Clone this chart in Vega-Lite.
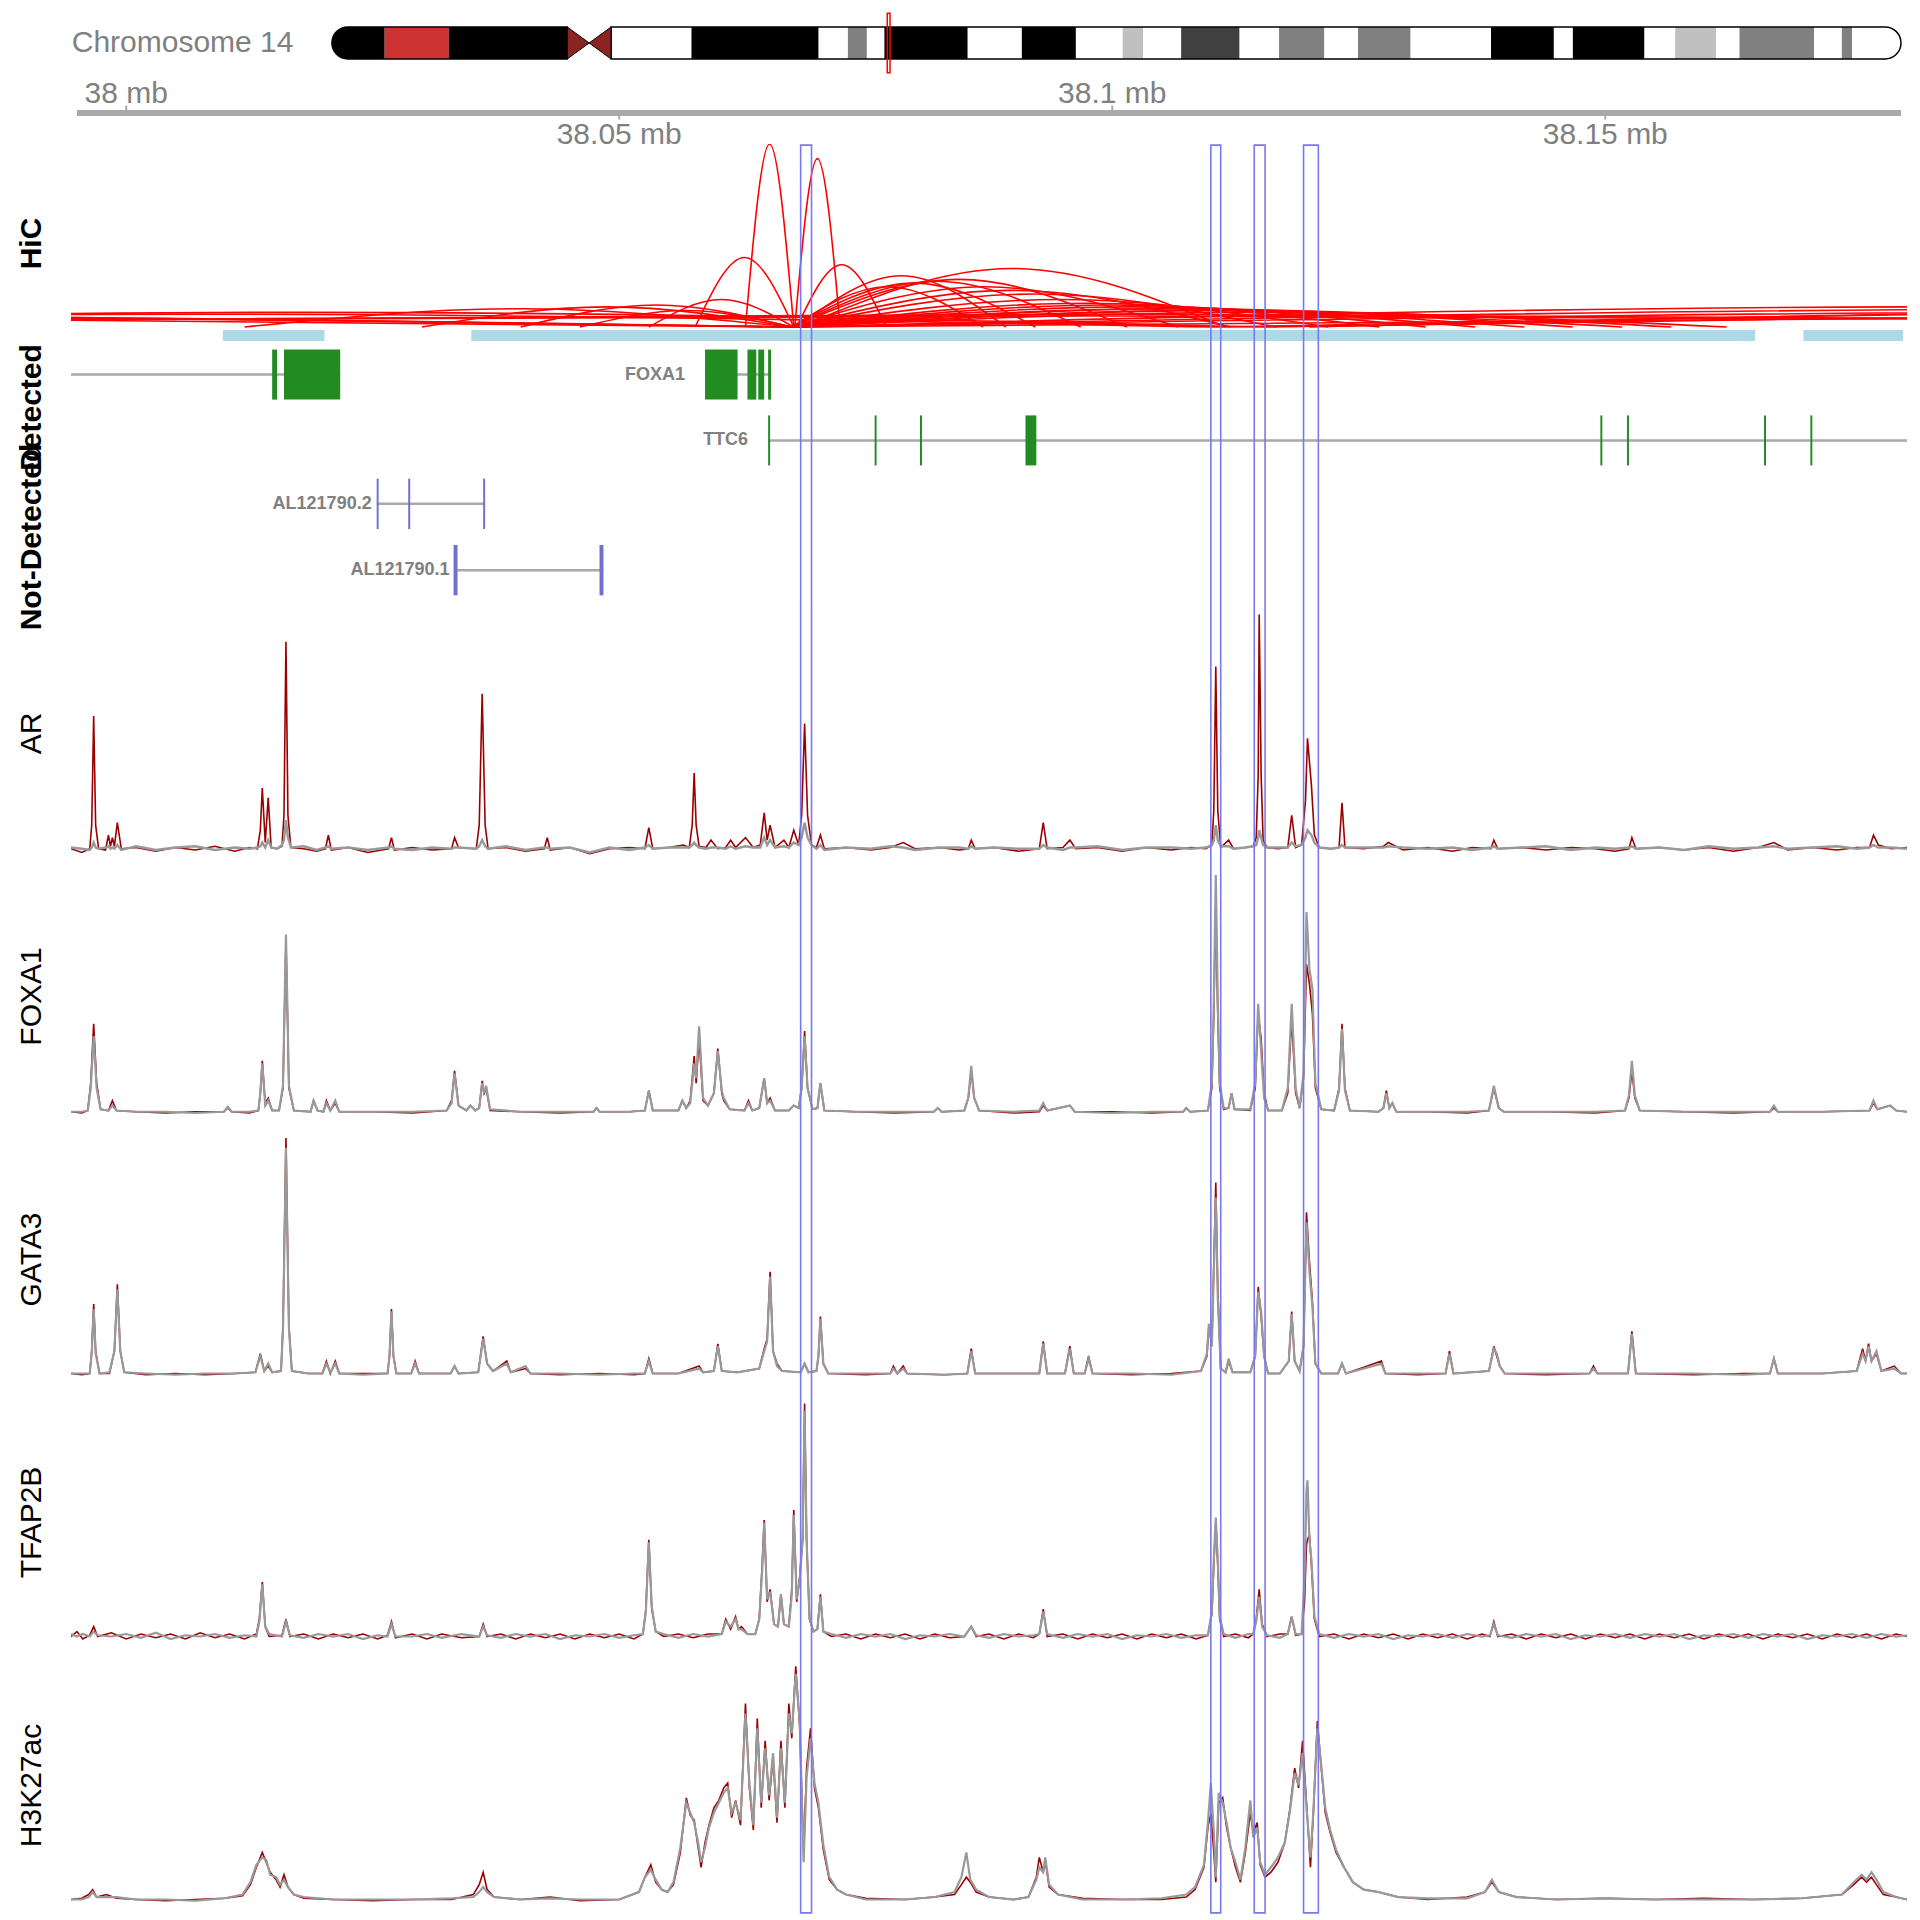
{
"$schema":"https://vega.github.io/schema/vega-lite/v6.json",
"padding":{"left":16,"top":10,"right":5,"bottom":2},
"spacing":0,
"bounds":"flush",
"config":{"view":{"stroke":null},"axis":{"disable":true},"font":"Liberation Sans",
 "title":{"orient":"left","anchor":"middle","frame":"group","offset":24,"fontSize":30,"font":"Liberation Sans","color":"black","fontWeight":"normal"}},
"datasets":{
"bands":[
{"b":"p13","s":0,"e":3.6,"st":"gvar"},{"b":"p12","s":3.6,"e":8.0,"st":"stalk"},{"b":"p11.2","s":8.0,"e":16.1,"st":"gvar"},
{"b":"q11.2","s":19.1,"e":24.6,"st":"gneg"},{"b":"q12","s":24.6,"e":33.3,"st":"gpos100"},{"b":"q13.1","s":33.3,"e":35.3,"st":"gneg"},
{"b":"q13.2","s":35.3,"e":36.6,"st":"gpos50"},{"b":"q13.3","s":36.6,"e":37.8,"st":"gneg"},{"b":"q21.1","s":37.8,"e":43.5,"st":"gpos100"},
{"b":"q21.2","s":43.5,"e":47.2,"st":"gneg"},{"b":"q21.3","s":47.2,"e":50.9,"st":"gpos100"},{"b":"q22.1","s":50.9,"e":54.1,"st":"gneg"},
{"b":"q22.2","s":54.1,"e":55.5,"st":"gpos25"},{"b":"q22.3","s":55.5,"e":58.1,"st":"gneg"},{"b":"q23.1","s":58.1,"e":62.1,"st":"gpos75"},
{"b":"q23.2","s":62.1,"e":64.8,"st":"gneg"},{"b":"q23.3","s":64.8,"e":67.9,"st":"gpos50"},{"b":"q24.1","s":67.9,"e":70.2,"st":"gneg"},
{"b":"q24.2","s":70.2,"e":73.8,"st":"gpos50"},{"b":"q24.3","s":73.8,"e":79.3,"st":"gneg"},{"b":"q31.1","s":79.3,"e":83.6,"st":"gpos100"},
{"b":"q31.2","s":83.6,"e":84.9,"st":"gneg"},{"b":"q31.3","s":84.9,"e":89.8,"st":"gpos100"},{"b":"q32.11","s":89.8,"e":91.9,"st":"gneg"},
{"b":"q32.12","s":91.9,"e":94.7,"st":"gpos25"},{"b":"q32.13","s":94.7,"e":96.3,"st":"gneg"},{"b":"q32.2","s":96.3,"e":101.4,"st":"gpos50"},
{"b":"q32.31","s":101.4,"e":103.3,"st":"gneg"},{"b":"q32.32","s":103.3,"e":104.0,"st":"gpos50"},{"b":"q32.33","s":104.0,"e":107.35,"st":"gneg"}],
"arms":[{"arm":"p","s":0,"e":16.1},{"arm":"q","s":19.1,"e":107.35}],
"ticks":[{"p":38.0,"l":"38 mb","side":"up"},{"p":38.05,"l":"38.05 mb","side":"down"},{"p":38.1,"l":"38.1 mb","side":"up"},{"p":38.15,"l":"38.15 mb","side":"down"}],
"tad":[{"s":38.0098,"e":38.0201},{"s":38.0350,"e":38.1652},{"s":38.1701,"e":38.1802}],
"boxes":[{"x1":38.0684,"x2":38.0695},{"x1":38.1100,"x2":38.1110},{"x1":38.1144,"x2":38.1155},{"x1":38.1194,"x2":38.1209}],
"genes":[
{"g":"MIPOL1","grp":"Detected","row":"r1","s":37.667,"e":38.0217},
{"g":"FOXA1","grp":"Detected","row":"r1","s":38.0587,"e":38.0654},
{"g":"TTC6","grp":"Detected","row":"r2","s":38.0651,"e":38.25},
{"g":"AL121790.2","grp":"Not-Detected","row":"r3","s":38.0254,"e":38.0364},
{"g":"AL121790.1","grp":"Not-Detected","row":"r4","s":38.0333,"e":38.0484}],
"exons":[
{"g":"MIPOL1","grp":"Detected","row":"r1","s":38.0148,"e":38.0153},{"g":"MIPOL1","grp":"Detected","row":"r1","s":38.0160,"e":38.0217},
{"g":"FOXA1","grp":"Detected","row":"r1","s":38.0587,"e":38.0620},{"g":"FOXA1","grp":"Detected","row":"r1","s":38.0630,"e":38.0639},
{"g":"FOXA1","grp":"Detected","row":"r1","s":38.0641,"e":38.0647},{"g":"FOXA1","grp":"Detected","row":"r1","s":38.0651,"e":38.0654},
{"g":"TTC6","grp":"Detected","row":"r2","s":38.0651,"e":38.0653},{"g":"TTC6","grp":"Detected","row":"r2","s":38.0759,"e":38.0761},
{"g":"TTC6","grp":"Detected","row":"r2","s":38.0805,"e":38.0807},{"g":"TTC6","grp":"Detected","row":"r2","s":38.0912,"e":38.0923},
{"g":"TTC6","grp":"Detected","row":"r2","s":38.1495,"e":38.1497},{"g":"TTC6","grp":"Detected","row":"r2","s":38.1522,"e":38.1524},
{"g":"TTC6","grp":"Detected","row":"r2","s":38.1661,"e":38.1663},{"g":"TTC6","grp":"Detected","row":"r2","s":38.1708,"e":38.1710},
{"g":"AL121790.2","grp":"Not-Detected","row":"r3","s":38.0254,"e":38.0256},{"g":"AL121790.2","grp":"Not-Detected","row":"r3","s":38.0286,"e":38.0288},
{"g":"AL121790.2","grp":"Not-Detected","row":"r3","s":38.0362,"e":38.0364},
{"g":"AL121790.1","grp":"Not-Detected","row":"r4","s":38.0332,"e":38.0336},{"g":"AL121790.1","grp":"Not-Detected","row":"r4","s":38.0480,"e":38.0484}],
"arcs":[
{"a":1,"x":38.0628,"h":0},{"a":1,"x":38.06525,"h":100},{"a":1,"x":38.0677,"h":0},
{"a":2,"x":38.0678,"h":0},{"a":2,"x":38.0701,"h":92},{"a":2,"x":38.0724,"h":0},
{"a":3,"x":38.0577,"h":0},{"a":3,"x":38.0627,"h":38},{"a":3,"x":38.0677,"h":0},
{"a":4,"x":38.0680,"h":0},{"a":4,"x":38.07255,"h":34},{"a":4,"x":38.0771,"h":0},
{"a":5,"x":38.0530,"h":0},{"a":5,"x":38.06035,"h":15},{"a":5,"x":38.0677,"h":0},
{"a":6,"x":38.0680,"h":0},{"a":6,"x":38.0786,"h":28},{"a":6,"x":38.0892,"h":0},
{"a":7,"x":38.0682,"h":0},{"a":7,"x":38.08985,"h":32},{"a":7,"x":38.1115,"h":0},
{"a":8,"x":38.0675,"h":0},{"a":8,"x":38.0772,"h":22},{"a":8,"x":38.0869,"h":0},
{"a":9,"x":38.0675,"h":0},{"a":9,"x":38.07985,"h":24},{"a":9,"x":38.0922,"h":0},
{"a":10,"x":38.0675,"h":0},{"a":10,"x":38.08215,"h":25},{"a":10,"x":38.0968,"h":0},
{"a":11,"x":38.0675,"h":0},{"a":11,"x":38.0845,"h":26},{"a":11,"x":38.1015,"h":0},
{"a":12,"x":38.0675,"h":0},{"a":12,"x":38.0871,"h":22},{"a":12,"x":38.1067,"h":0},
{"a":13,"x":38.0675,"h":0},{"a":13,"x":38.08975,"h":20},{"a":13,"x":38.1120,"h":0},
{"a":14,"x":38.0675,"h":0},{"a":14,"x":38.09205,"h":18},{"a":14,"x":38.1166,"h":0},
{"a":15,"x":38.0675,"h":0},{"a":15,"x":38.0947,"h":15},{"a":15,"x":38.1219,"h":0},
{"a":16,"x":38.0675,"h":0},{"a":16,"x":38.0973,"h":13},{"a":16,"x":38.1271,"h":0},
{"a":17,"x":38.0675,"h":0},{"a":17,"x":38.09965,"h":12},{"a":17,"x":38.1318,"h":0},
{"a":18,"x":38.0675,"h":0},{"a":18,"x":38.10215,"h":11},{"a":18,"x":38.1368,"h":0},
{"a":19,"x":38.0675,"h":0},{"a":19,"x":38.10465,"h":10},{"a":19,"x":38.1418,"h":0},
{"a":20,"x":38.0675,"h":0},{"a":20,"x":38.1071,"h":10},{"a":20,"x":38.1467,"h":0},
{"a":21,"x":38.0675,"h":0},{"a":21,"x":38.1096,"h":9},{"a":21,"x":38.1517,"h":0},
{"a":22,"x":38.0675,"h":0},{"a":22,"x":38.1121,"h":9},{"a":22,"x":38.1567,"h":0},
{"a":23,"x":38.0675,"h":0},{"a":23,"x":38.1149,"h":8},{"a":23,"x":38.1623,"h":0},
{"a":24,"x":38.0675,"h":0},{"a":24,"x":38.18375,"h":11},{"a":24,"x":38.30,"h":0},
{"a":25,"x":38.0675,"h":0},{"a":25,"x":38.20875,"h":10},{"a":25,"x":38.35,"h":0},
{"a":26,"x":38.0675,"h":0},{"a":26,"x":38.23375,"h":9},{"a":26,"x":38.40,"h":0},
{"a":27,"x":38.0675,"h":0},{"a":27,"x":38.25875,"h":8},{"a":27,"x":38.45,"h":0},
{"a":28,"x":37.75,"h":0},{"a":28,"x":37.90875,"h":8},{"a":28,"x":38.0675,"h":0},
{"a":29,"x":37.80,"h":0},{"a":29,"x":37.93375,"h":7},{"a":29,"x":38.0675,"h":0},
{"a":30,"x":37.85,"h":0},{"a":30,"x":37.95875,"h":6},{"a":30,"x":38.0675,"h":0},
{"a":31,"x":37.88,"h":0},{"a":31,"x":37.97375,"h":5},{"a":31,"x":38.0675,"h":0},
{"a":32,"x":38.0120,"h":0},{"a":32,"x":38.03975,"h":10},{"a":32,"x":38.0675,"h":0},
{"a":33,"x":38.0300,"h":0},{"a":33,"x":38.04875,"h":11},{"a":33,"x":38.0675,"h":0},
{"a":34,"x":38.0400,"h":0},{"a":34,"x":38.05375,"h":12},{"a":34,"x":38.0675,"h":0},
{"a":35,"x":38.0460,"h":0},{"a":35,"x":38.05675,"h":9},{"a":35,"x":38.0675,"h":0},
{"a":36,"x":37.85,"h":0},{"a":36,"x":38.10,"h":7},{"a":36,"x":38.35,"h":0},
{"a":37,"x":37.80,"h":0},{"a":37,"x":38.10,"h":6},{"a":37,"x":38.40,"h":0},
{"a":38,"x":38.1105,"h":0},{"a":38,"x":38.25525,"h":10},{"a":38,"x":38.40,"h":0},
{"a":39,"x":38.1150,"h":0},{"a":39,"x":38.2825,"h":9},{"a":39,"x":38.45,"h":0},
{"a":40,"x":38.1200,"h":0},{"a":40,"x":38.25,"h":11},{"a":40,"x":38.38,"h":0},
{"a":41,"x":37.90,"h":0},{"a":41,"x":38.00525,"h":7},{"a":41,"x":38.1105,"h":0},
{"a":42,"x":37.92,"h":0},{"a":42,"x":38.0175,"h":8},{"a":42,"x":38.1150,"h":0}],
"ar":[
{"x":37.9944,"t":0.5,"c":1},{"x":37.9955,"t":-1,"c":0.5},{"x":37.9963,"t":0.5,"c":0},{"x":37.9965,"t":10,"c":1},{"x":37.9967,"t":54,"c":3},{"x":37.9969,"t":10,"c":1},{"x":37.9972,"t":0.5,"c":0.5},
{"x":37.9979,"t":0,"c":1},{"x":37.9982,"t":6,"c":1.5},{"x":37.9984,"t":1.5,"c":0.5},{"x":37.9986,"t":5,"c":1},{"x":37.9988,"t":1.5,"c":0.5},{"x":37.9991,"t":11,"c":2},{"x":37.9995,"t":0.5,"c":0},
{"x":38.0010,"t":1,"c":1.5},{"x":38.0030,"t":-0.5,"c":0},{"x":38.0050,"t":1,"c":1},{"x":38.0070,"t":0,"c":1.5},{"x":38.0090,"t":1.5,"c":0},{"x":38.0110,"t":-0.5,"c":1},{"x":38.0125,"t":1,"c":0.5},
{"x":38.0133,"t":0.5,"c":1},{"x":38.0136,"t":8,"c":1.5},{"x":38.0138,"t":25,"c":3},{"x":38.0141,"t":3,"c":1},{"x":38.0144,"t":21,"c":4},{"x":38.0147,"t":1,"c":1},{"x":38.0153,"t":0.5,"c":0.5},
{"x":38.0158,"t":1.5,"c":2},{"x":38.0160,"t":14,"c":4},{"x":38.0162,"t":84,"c":12},{"x":38.0164,"t":14,"c":5},{"x":38.0167,"t":1,"c":1},{"x":38.0180,"t":0.5,"c":1.5},{"x":38.0193,"t":-0.5,"c":0},
{"x":38.0202,"t":0.5,"c":1},{"x":38.0205,"t":6,"c":1.5},{"x":38.0208,"t":0,"c":0.5},{"x":38.0225,"t":1,"c":1},{"x":38.0245,"t":-1,"c":0},{"x":38.0266,"t":0.5,"c":1},{"x":38.0269,"t":5,"c":1.5},{"x":38.0272,"t":0,"c":0.5},
{"x":38.0290,"t":1,"c":0},{"x":38.0310,"t":0,"c":1},{"x":38.0330,"t":0.5,"c":0.5},{"x":38.0333,"t":5,"c":1},{"x":38.0337,"t":1,"c":1},{"x":38.0355,"t":0.5,"c":0.5},{"x":38.0358,"t":10,"c":1.5},
{"x":38.0361,"t":63,"c":4},{"x":38.0364,"t":10,"c":1.5},{"x":38.0367,"t":0.5,"c":0.5},{"x":38.0385,"t":1,"c":1.5},{"x":38.0405,"t":-0.5,"c":0},{"x":38.0424,"t":0.5,"c":1},{"x":38.0427,"t":5,"c":1},
{"x":38.0430,"t":0,"c":0.5},{"x":38.0450,"t":1,"c":1},{"x":38.0470,"t":-1.5,"c":-1},{"x":38.0490,"t":0.5,"c":1},{"x":38.0510,"t":1,"c":0},{"x":38.0526,"t":0.5,"c":1},{"x":38.0530,"t":9,"c":2},
{"x":38.0534,"t":0.5,"c":0.5},{"x":38.0550,"t":1,"c":1},{"x":38.0565,"t":2,"c":1},{"x":38.0571,"t":1,"c":1},{"x":38.0574,"t":10,"c":2},{"x":38.0576,"t":31,"c":3},{"x":38.0578,"t":10,"c":2},
{"x":38.0581,"t":1.5,"c":1},{"x":38.0588,"t":1,"c":0.5},{"x":38.0593,"t":4,"c":1},{"x":38.0600,"t":0.5,"c":1},{"x":38.0608,"t":1,"c":0.5},{"x":38.0613,"t":4,"c":1.5},{"x":38.0618,"t":1,"c":0.5},
{"x":38.0628,"t":5,"c":1.5},{"x":38.0636,"t":1,"c":1},{"x":38.0643,"t":2,"c":1},{"x":38.0647,"t":15,"c":5},{"x":38.0650,"t":4,"c":2},{"x":38.0653,"t":10,"c":4},{"x":38.0658,"t":1,"c":1},
{"x":38.0667,"t":4,"c":1.5},{"x":38.0672,"t":1,"c":1},{"x":38.0677,"t":8,"c":3},{"x":38.0682,"t":2,"c":2},{"x":38.0685,"t":14,"c":5},{"x":38.0688,"t":51,"c":11},{"x":38.0691,"t":14,"c":5},
{"x":38.0695,"t":2,"c":2},{"x":38.0700,"t":1,"c":0.5},{"x":38.0704,"t":6,"c":2},{"x":38.0708,"t":0.5,"c":0},{"x":38.0730,"t":1,"c":1},{"x":38.0755,"t":0,"c":0.5},{"x":38.0775,"t":1,"c":1.5},
{"x":38.0788,"t":3,"c":1},{"x":38.0800,"t":0.5,"c":0},{"x":38.0825,"t":1,"c":1},{"x":38.0845,"t":0,"c":1},{"x":38.0854,"t":0.5,"c":0.5},{"x":38.0857,"t":4,"c":1.5},{"x":38.0861,"t":0.5,"c":0.5},
{"x":38.0880,"t":1,"c":1},{"x":38.0905,"t":-0.5,"c":0.5},{"x":38.0926,"t":0.5,"c":0.5},{"x":38.0930,"t":11,"c":2},{"x":38.0934,"t":0.5,"c":1},{"x":38.0950,"t":1,"c":0},{"x":38.0957,"t":4,"c":1},
{"x":38.0963,"t":0.5,"c":1},{"x":38.0985,"t":1,"c":1.5},{"x":38.1010,"t":-0.5,"c":0},{"x":38.1035,"t":1,"c":1},{"x":38.1060,"t":0,"c":1},{"x":38.1080,"t":1,"c":0.5},{"x":38.1095,"t":0.5,"c":1},
{"x":38.1101,"t":2,"c":2},{"x":38.1103,"t":16,"c":4},{"x":38.1105,"t":74,"c":10},{"x":38.1107,"t":16,"c":4},{"x":38.1110,"t":1,"c":1.5},{"x":38.1118,"t":4,"c":1.5},{"x":38.1123,"t":0.5,"c":0.5},
{"x":38.1135,"t":1,"c":1},{"x":38.1143,"t":1.5,"c":1.5},{"x":38.1146,"t":5,"c":2},{"x":38.1148,"t":30,"c":5},{"x":38.1149,"t":95,"c":8},{"x":38.1151,"t":30,"c":5},{"x":38.1153,"t":4,"c":2},
{"x":38.1157,"t":1,"c":1},{"x":38.1168,"t":0.5,"c":1},{"x":38.1178,"t":1,"c":1},{"x":38.1182,"t":14,"c":3},{"x":38.1186,"t":1,"c":1.5},{"x":38.1192,"t":2,"c":2},{"x":38.1196,"t":20,"c":5},
{"x":38.1198,"t":45,"c":8},{"x":38.1202,"t":26,"c":6},{"x":38.1205,"t":6,"c":3},{"x":38.1210,"t":1,"c":1},{"x":38.1222,"t":0.5,"c":0.5},{"x":38.1230,"t":1,"c":1},{"x":38.1233,"t":19,"c":2},
{"x":38.1236,"t":1,"c":1},{"x":38.1255,"t":0.5,"c":1},{"x":38.1275,"t":1.5,"c":1},{"x":38.1280,"t":3,"c":1.5},{"x":38.1295,"t":0,"c":1},{"x":38.1320,"t":1,"c":0.5},{"x":38.1345,"t":-0.5,"c":1},
{"x":38.1365,"t":1,"c":0},{"x":38.1384,"t":0.5,"c":1},{"x":38.1387,"t":4,"c":1.5},{"x":38.1391,"t":0.5,"c":0.5},{"x":38.1415,"t":1,"c":1},{"x":38.1440,"t":0,"c":1.5},{"x":38.1465,"t":1,"c":0},
{"x":38.1490,"t":0.5,"c":1},{"x":38.1510,"t":-0.5,"c":0.5},{"x":38.1524,"t":0.5,"c":1},{"x":38.1527,"t":5,"c":1.5},{"x":38.1531,"t":0.5,"c":0.5},{"x":38.1555,"t":1,"c":1},{"x":38.1580,"t":0,"c":0},
{"x":38.1605,"t":1,"c":1.5},{"x":38.1630,"t":-0.5,"c":0.5},{"x":38.1655,"t":1,"c":1},{"x":38.1671,"t":3,"c":1.5},{"x":38.1685,"t":0,"c":0.5},{"x":38.1710,"t":1,"c":1},{"x":38.1735,"t":0,"c":1.5},
{"x":38.1755,"t":1,"c":0.5},{"x":38.1768,"t":1,"c":1},{"x":38.1772,"t":6,"c":2},{"x":38.1777,"t":2,"c":1},{"x":38.1790,"t":0.5,"c":1},{"x":38.1806,"t":1,"c":0.5}],
"foxa1":[
{"x":37.9944,"t":0.5,"c":0.5},{"x":37.9955,"t":0,"c":0.5},{"x":37.9961,"t":1,"c":1},{"x":37.9964,"t":12,"c":10},{"x":37.9967,"t":36,"c":31},{"x":37.9970,"t":12,"c":10},{"x":37.9974,"t":1.5,"c":1.5},
{"x":37.9982,"t":1,"c":1},{"x":37.9986,"t":5,"c":3},{"x":37.9990,"t":1,"c":1},{"x":38.0010,"t":0.5,"c":0.5},{"x":38.0040,"t":0,"c":0.5},{"x":38.0070,"t":0.5,"c":0},{"x":38.0099,"t":0.5,"c":0.5},
{"x":38.0103,"t":2,"c":2.5},{"x":38.0107,"t":0.5,"c":0.5},{"x":38.0125,"t":0,"c":0.5},{"x":38.0134,"t":1,"c":1},{"x":38.0136,"t":8,"c":8},{"x":38.0138,"t":21,"c":20},{"x":38.0141,"t":4,"c":3},
{"x":38.0144,"t":6,"c":5},{"x":38.0148,"t":1,"c":1},{"x":38.0155,"t":1,"c":1},{"x":38.0159,"t":10,"c":11},{"x":38.0162,"t":70,"c":72},{"x":38.0165,"t":10,"c":11},{"x":38.0170,"t":1,"c":1},
{"x":38.0187,"t":0.5,"c":0.5},{"x":38.0190,"t":5,"c":5},{"x":38.0194,"t":1,"c":1},{"x":38.0200,"t":0.5,"c":0.5},{"x":38.0203,"t":5,"c":4},{"x":38.0207,"t":1,"c":1},{"x":38.0212,"t":4,"c":5},
{"x":38.0216,"t":0.5,"c":0.5},{"x":38.0250,"t":0.5,"c":0.5},{"x":38.0290,"t":0,"c":0.5},{"x":38.0325,"t":1,"c":1},{"x":38.0330,"t":5,"c":4},{"x":38.0333,"t":17,"c":16},{"x":38.0337,"t":3,"c":3},
{"x":38.0345,"t":1,"c":1},{"x":38.0349,"t":3,"c":3},{"x":38.0354,"t":1,"c":1},{"x":38.0358,"t":2,"c":2},{"x":38.0361,"t":13,"c":12},{"x":38.0363,"t":8,"c":8},{"x":38.0365,"t":10,"c":11},
{"x":38.0369,"t":1,"c":1.5},{"x":38.0400,"t":0.5,"c":0.5},{"x":38.0440,"t":0,"c":0.5},{"x":38.0474,"t":0.5,"c":0.5},{"x":38.0477,"t":2,"c":2},{"x":38.0480,"t":0.5,"c":0.5},{"x":38.0510,"t":0.5,"c":0.5},
{"x":38.0526,"t":1,"c":1},{"x":38.0530,"t":9,"c":9},{"x":38.0534,"t":1,"c":1},{"x":38.0560,"t":1,"c":1},{"x":38.0564,"t":5,"c":5},{"x":38.0568,"t":2,"c":2},{"x":38.0572,"t":5,"c":4},
{"x":38.0576,"t":23,"c":20},{"x":38.0578,"t":12,"c":14},{"x":38.0581,"t":30,"c":35},{"x":38.0585,"t":5,"c":6},{"x":38.0590,"t":3,"c":3},{"x":38.0596,"t":8,"c":8},{"x":38.0600,"t":26,"c":25},
{"x":38.0604,"t":8,"c":9},{"x":38.0606,"t":5,"c":6},{"x":38.0612,"t":1.5,"c":1.5},{"x":38.0627,"t":1,"c":1},{"x":38.0631,"t":5,"c":4},{"x":38.0635,"t":1,"c":1},{"x":38.0642,"t":2,"c":2},
{"x":38.0647,"t":14,"c":14},{"x":38.0650,"t":4,"c":4},{"x":38.0653,"t":6,"c":5},{"x":38.0658,"t":1,"c":1},{"x":38.0672,"t":1,"c":1},{"x":38.0677,"t":3,"c":3},{"x":38.0682,"t":2,"c":2},
{"x":38.0685,"t":10,"c":10},{"x":38.0688,"t":33,"c":31},{"x":38.0691,"t":10,"c":10},{"x":38.0696,"t":1.5,"c":1.5},{"x":38.0701,"t":2,"c":2},{"x":38.0704,"t":12,"c":12},{"x":38.0708,"t":1,"c":1},
{"x":38.0740,"t":0.5,"c":0.5},{"x":38.0780,"t":0,"c":0.5},{"x":38.0819,"t":0.5,"c":0.5},{"x":38.0823,"t":2,"c":2},{"x":38.0827,"t":0.5,"c":0.5},{"x":38.0850,"t":1,"c":1},{"x":38.0854,"t":6,"c":6},
{"x":38.0857,"t":17,"c":19},{"x":38.0860,"t":6,"c":6},{"x":38.0865,"t":1,"c":1},{"x":38.0900,"t":0,"c":0.5},{"x":38.0926,"t":0.5,"c":1},{"x":38.0930,"t":3,"c":4},{"x":38.0934,"t":1,"c":1},
{"x":38.0957,"t":3,"c":3},{"x":38.0962,"t":0.5,"c":0.5},{"x":38.1000,"t":0.5,"c":0},{"x":38.1040,"t":0,"c":0.5},{"x":38.1072,"t":0.5,"c":0.5},{"x":38.1075,"t":2,"c":2},{"x":38.1079,"t":0.5,"c":0.5},
{"x":38.1097,"t":1,"c":1},{"x":38.1101,"t":10,"c":12},{"x":38.1103,"t":40,"c":45},{"x":38.1105,"t":85,"c":96},{"x":38.1107,"t":40,"c":45},{"x":38.1109,"t":10,"c":12},{"x":38.1113,"t":1.5,"c":2},
{"x":38.1118,"t":2,"c":2},{"x":38.1121,"t":8,"c":8},{"x":38.1124,"t":1.5,"c":1.5},{"x":38.1140,"t":1,"c":1.5},{"x":38.1145,"t":10,"c":12},{"x":38.1148,"t":40,"c":44},{"x":38.1151,"t":30,"c":25},
{"x":38.1154,"t":8,"c":6},{"x":38.1158,"t":1,"c":1},{"x":38.1172,"t":1,"c":1},{"x":38.1178,"t":8,"c":10},{"x":38.1182,"t":38,"c":44},{"x":38.1186,"t":8,"c":10},{"x":38.1190,"t":2,"c":2},
{"x":38.1194,"t":14,"c":16},{"x":38.1197,"t":60,"c":81},{"x":38.1200,"t":52,"c":58},{"x":38.1203,"t":40,"c":50},{"x":38.1206,"t":10,"c":12},{"x":38.1212,"t":1.5,"c":1.5},{"x":38.1225,"t":1,"c":1},
{"x":38.1230,"t":10,"c":9},{"x":38.1233,"t":36,"c":34},{"x":38.1236,"t":10,"c":9},{"x":38.1241,"t":1,"c":1},{"x":38.1270,"t":0.5,"c":0.5},{"x":38.1275,"t":2,"c":2},{"x":38.1278,"t":9,"c":8},
{"x":38.1281,"t":2,"c":2},{"x":38.1284,"t":4,"c":4},{"x":38.1288,"t":0.5,"c":0.5},{"x":38.1320,"t":0.5,"c":0.5},{"x":38.1360,"t":0,"c":0.5},{"x":38.1382,"t":1,"c":1},{"x":38.1387,"t":10,"c":11},
{"x":38.1392,"t":2,"c":2},{"x":38.1397,"t":0.5,"c":0.5},{"x":38.1440,"t":0.5,"c":0.5},{"x":38.1490,"t":0,"c":0.5},{"x":38.1520,"t":1,"c":1},{"x":38.1524,"t":6,"c":7},{"x":38.1527,"t":17,"c":21},
{"x":38.1530,"t":6,"c":7},{"x":38.1535,"t":1,"c":1},{"x":38.1580,"t":0.5,"c":0.5},{"x":38.1630,"t":0,"c":0.5},{"x":38.1667,"t":0.5,"c":0.5},{"x":38.1671,"t":2,"c":3},{"x":38.1675,"t":0.5,"c":0.5},
{"x":38.1720,"t":0.5,"c":0.5},{"x":38.1768,"t":1,"c":1},{"x":38.1772,"t":4,"c":5},{"x":38.1776,"t":1.5,"c":1.5},{"x":38.1789,"t":3,"c":3},{"x":38.1795,"t":1,"c":1},{"x":38.1806,"t":0.5,"c":0.5}],
"gata3":[
{"x":37.9944,"t":1,"c":1},{"x":37.9955,"t":0.5,"c":1},{"x":37.9963,"t":1,"c":1},{"x":37.9965,"t":10,"c":9},{"x":37.9967,"t":29,"c":27},{"x":37.9969,"t":10,"c":9},{"x":37.9973,"t":1,"c":1},
{"x":37.9983,"t":1,"c":1.5},{"x":37.9988,"t":10,"c":10},{"x":37.9991,"t":37,"c":35},{"x":37.9994,"t":10,"c":10},{"x":37.9998,"t":1.5,"c":1.5},{"x":38.0020,"t":0.5,"c":1},{"x":38.0050,"t":1,"c":0.5},
{"x":38.0080,"t":0.5,"c":1},{"x":38.0110,"t":1,"c":1},{"x":38.0131,"t":1.5,"c":1.5},{"x":38.0136,"t":9,"c":8},{"x":38.0140,"t":2,"c":2},{"x":38.0144,"t":4,"c":5},{"x":38.0148,"t":1.5,"c":1.5},
{"x":38.0157,"t":2,"c":2},{"x":38.0159,"t":20,"c":19},{"x":38.0161,"t":70,"c":66},{"x":38.0162,"t":96,"c":92},{"x":38.0163,"t":70,"c":66},{"x":38.0165,"t":20,"c":19},{"x":38.0168,"t":2,"c":2},
{"x":38.0185,"t":1,"c":1},{"x":38.0199,"t":1,"c":1},{"x":38.0203,"t":6,"c":5},{"x":38.0207,"t":1,"c":1.5},{"x":38.0212,"t":6,"c":5},{"x":38.0216,"t":1,"c":1},{"x":38.0240,"t":1,"c":0.5},
{"x":38.0265,"t":1,"c":1},{"x":38.0267,"t":8,"c":8},{"x":38.0269,"t":27,"c":26},{"x":38.0271,"t":8,"c":8},{"x":38.0274,"t":1,"c":1},{"x":38.0289,"t":1,"c":1},{"x":38.0293,"t":6,"c":5},
{"x":38.0297,"t":1,"c":1},{"x":38.0329,"t":1,"c":1},{"x":38.0333,"t":4,"c":4},{"x":38.0337,"t":1,"c":1},{"x":38.0357,"t":1.5,"c":1.5},{"x":38.0362,"t":16,"c":15},{"x":38.0366,"t":5,"c":5},
{"x":38.0372,"t":2,"c":2},{"x":38.0386,"t":6,"c":5},{"x":38.0390,"t":1.5,"c":1.5},{"x":38.0405,"t":3,"c":4},{"x":38.0410,"t":1,"c":1},{"x":38.0440,"t":0.5,"c":1},{"x":38.0480,"t":1,"c":0.5},
{"x":38.0515,"t":0.5,"c":1},{"x":38.0526,"t":1,"c":1},{"x":38.0530,"t":7,"c":6},{"x":38.0534,"t":1,"c":1},{"x":38.0560,"t":1,"c":1},{"x":38.0581,"t":4,"c":3},{"x":38.0585,"t":1.5,"c":1.5},
{"x":38.0596,"t":2,"c":2},{"x":38.0600,"t":13,"c":12},{"x":38.0604,"t":2,"c":2},{"x":38.0620,"t":1.5,"c":1.5},{"x":38.0642,"t":3,"c":3},{"x":38.0647,"t":11,"c":10},{"x":38.0650,"t":15,"c":14},
{"x":38.0653,"t":42,"c":40},{"x":38.0656,"t":10,"c":10},{"x":38.0660,"t":5,"c":4},{"x":38.0665,"t":2,"c":2},{"x":38.0684,"t":1.5,"c":1.5},{"x":38.0688,"t":5,"c":5},{"x":38.0692,"t":1.5,"c":1.5},
{"x":38.0700,"t":2,"c":2},{"x":38.0702,"t":8,"c":8},{"x":38.0704,"t":24,"c":23},{"x":38.0707,"t":5,"c":5},{"x":38.0712,"t":1,"c":1},{"x":38.0750,"t":0.5,"c":1},{"x":38.0775,"t":1,"c":1},
{"x":38.0778,"t":4,"c":3},{"x":38.0782,"t":1,"c":1},{"x":38.0788,"t":4,"c":3},{"x":38.0792,"t":1,"c":1},{"x":38.0830,"t":0.5,"c":0.5},{"x":38.0853,"t":1,"c":1},{"x":38.0857,"t":11,"c":10},
{"x":38.0861,"t":1,"c":1},{"x":38.0900,"t":1,"c":1},{"x":38.0926,"t":1,"c":1},{"x":38.0930,"t":14,"c":13},{"x":38.0934,"t":1,"c":1},{"x":38.0952,"t":1,"c":1},{"x":38.0957,"t":12,"c":11},
{"x":38.0961,"t":1,"c":1},{"x":38.0972,"t":1,"c":1},{"x":38.0976,"t":8,"c":7},{"x":38.0980,"t":1,"c":1},{"x":38.1020,"t":0.5,"c":1},{"x":38.1060,"t":1,"c":0.5},{"x":38.1090,"t":2,"c":2},
{"x":38.1096,"t":8,"c":9},{"x":38.1098,"t":20,"c":21},{"x":38.1101,"t":12,"c":12},{"x":38.1103,"t":45,"c":42},{"x":38.1105,"t":78,"c":72},{"x":38.1107,"t":35,"c":32},{"x":38.1110,"t":3,"c":3},
{"x":38.1115,"t":1.5,"c":1.5},{"x":38.1118,"t":6,"c":7},{"x":38.1122,"t":1.5,"c":1.5},{"x":38.1140,"t":1.5,"c":1.5},{"x":38.1145,"t":8,"c":8},{"x":38.1148,"t":36,"c":34},{"x":38.1151,"t":24,"c":26},
{"x":38.1154,"t":8,"c":8},{"x":38.1158,"t":1,"c":1},{"x":38.1170,"t":1,"c":1},{"x":38.1179,"t":6,"c":6},{"x":38.1182,"t":26,"c":25},{"x":38.1185,"t":6,"c":6},{"x":38.1190,"t":2,"c":2},
{"x":38.1194,"t":12,"c":12},{"x":38.1197,"t":66,"c":62},{"x":38.1200,"t":46,"c":42},{"x":38.1203,"t":30,"c":28},{"x":38.1206,"t":5,"c":5},{"x":38.1212,"t":1,"c":1},{"x":38.1229,"t":1,"c":1},
{"x":38.1233,"t":5,"c":5},{"x":38.1237,"t":1,"c":1},{"x":38.1273,"t":6,"c":5},{"x":38.1277,"t":1,"c":1},{"x":38.1310,"t":0.5,"c":1},{"x":38.1338,"t":1,"c":1},{"x":38.1342,"t":10,"c":9},
{"x":38.1346,"t":1,"c":1},{"x":38.1382,"t":2,"c":2},{"x":38.1387,"t":12,"c":11},{"x":38.1390,"t":8,"c":9},{"x":38.1393,"t":4,"c":4},{"x":38.1398,"t":1,"c":1},{"x":38.1440,"t":0.5,"c":1},
{"x":38.1484,"t":1,"c":1},{"x":38.1488,"t":4,"c":3},{"x":38.1492,"t":1,"c":1},{"x":38.1523,"t":1,"c":1},{"x":38.1527,"t":18,"c":17},{"x":38.1531,"t":1,"c":1},{"x":38.1590,"t":0.5,"c":1},
{"x":38.1640,"t":1,"c":0.5},{"x":38.1667,"t":1,"c":1},{"x":38.1671,"t":7,"c":7},{"x":38.1675,"t":1,"c":1},{"x":38.1720,"t":1,"c":1},{"x":38.1755,"t":2,"c":2},{"x":38.1761,"t":11,"c":9},
{"x":38.1764,"t":6,"c":6},{"x":38.1767,"t":13,"c":12},{"x":38.1770,"t":6,"c":6},{"x":38.1775,"t":9,"c":10},{"x":38.1780,"t":2,"c":2},{"x":38.1793,"t":4,"c":3},{"x":38.1800,"t":1,"c":1},{"x":38.1806,"t":1,"c":1}],
"tfap2b":[
{"x":37.9944,"t":1,"c":2},{"x":37.9950,"t":3,"c":1},{"x":37.9956,"t":0,"c":2},{"x":37.9963,"t":1.5,"c":1},{"x":37.9967,"t":5,"c":3},{"x":37.9971,"t":1,"c":1.5},{"x":37.9985,"t":2.5,"c":1},
{"x":38.0000,"t":0,"c":2},{"x":38.0015,"t":2,"c":0.5},{"x":38.0030,"t":0.5,"c":2.5},{"x":38.0045,"t":2,"c":0},{"x":38.0060,"t":0,"c":1.5},{"x":38.0075,"t":2.5,"c":1},{"x":38.0090,"t":0.5,"c":2},
{"x":38.0105,"t":2,"c":0.5},{"x":38.0120,"t":0,"c":1.5},{"x":38.0132,"t":2,"c":1},{"x":38.0135,"t":8,"c":7},{"x":38.0138,"t":23,"c":22},{"x":38.0141,"t":5,"c":5},{"x":38.0145,"t":1,"c":2},
{"x":38.0158,"t":1.5,"c":1},{"x":38.0162,"t":8,"c":7},{"x":38.0166,"t":1,"c":1.5},{"x":38.0180,"t":2,"c":0.5},{"x":38.0195,"t":0,"c":2},{"x":38.0210,"t":2,"c":1},{"x":38.0225,"t":0.5,"c":2},
{"x":38.0240,"t":2,"c":0},{"x":38.0255,"t":0,"c":1.5},{"x":38.0265,"t":1.5,"c":1},{"x":38.0269,"t":7,"c":6},{"x":38.0273,"t":0.5,"c":1},{"x":38.0290,"t":2,"c":1},{"x":38.0305,"t":0,"c":2},
{"x":38.0320,"t":2,"c":0.5},{"x":38.0340,"t":0.5,"c":2},{"x":38.0358,"t":1,"c":1},{"x":38.0362,"t":6,"c":5},{"x":38.0366,"t":1,"c":1.5},{"x":38.0380,"t":2,"c":0.5},{"x":38.0395,"t":0,"c":2},
{"x":38.0410,"t":2,"c":1},{"x":38.0425,"t":0.5,"c":2},{"x":38.0440,"t":2,"c":0},{"x":38.0455,"t":0,"c":1.5},{"x":38.0470,"t":2,"c":1},{"x":38.0485,"t":0.5,"c":2},{"x":38.0500,"t":2,"c":0.5},
{"x":38.0515,"t":0,"c":1.5},{"x":38.0524,"t":2,"c":2},{"x":38.0527,"t":12,"c":11},{"x":38.0530,"t":40,"c":39},{"x":38.0533,"t":12,"c":13},{"x":38.0537,"t":3,"c":3},{"x":38.0545,"t":1,"c":2},
{"x":38.0560,"t":2,"c":0.5},{"x":38.0575,"t":0.5,"c":2},{"x":38.0590,"t":2,"c":1},{"x":38.0604,"t":2,"c":2},{"x":38.0608,"t":8,"c":7},{"x":38.0613,"t":4,"c":5},{"x":38.0618,"t":9,"c":8},
{"x":38.0621,"t":4,"c":4},{"x":38.0624,"t":5,"c":4},{"x":38.0630,"t":2,"c":2},{"x":38.0638,"t":2,"c":2},{"x":38.0642,"t":8,"c":8},{"x":38.0645,"t":30,"c":28},{"x":38.0647,"t":48,"c":47},
{"x":38.0650,"t":15,"c":16},{"x":38.0653,"t":20,"c":19},{"x":38.0657,"t":6,"c":6},{"x":38.0661,"t":5,"c":5},{"x":38.0664,"t":18,"c":18},{"x":38.0667,"t":6,"c":6},{"x":38.0672,"t":5,"c":5},
{"x":38.0675,"t":20,"c":18},{"x":38.0677,"t":52,"c":50},{"x":38.0680,"t":15,"c":16},{"x":38.0683,"t":25,"c":24},{"x":38.0686,"t":40,"c":40},{"x":38.0688,"t":95,"c":92},{"x":38.0690,"t":40,"c":40},
{"x":38.0693,"t":8,"c":8},{"x":38.0697,"t":3,"c":3},{"x":38.0701,"t":4,"c":4},{"x":38.0704,"t":18,"c":17},{"x":38.0707,"t":3,"c":3},{"x":38.0715,"t":1,"c":2},{"x":38.0730,"t":2,"c":0.5},
{"x":38.0745,"t":0,"c":2},{"x":38.0760,"t":2,"c":1},{"x":38.0775,"t":0.5,"c":2},{"x":38.0790,"t":2,"c":0},{"x":38.0805,"t":0,"c":1.5},{"x":38.0820,"t":2,"c":1},{"x":38.0835,"t":0.5,"c":2},
{"x":38.0850,"t":1,"c":1},{"x":38.0857,"t":5,"c":5},{"x":38.0862,"t":1,"c":1.5},{"x":38.0875,"t":2,"c":0.5},{"x":38.0890,"t":0,"c":2},{"x":38.0905,"t":2,"c":1},{"x":38.0920,"t":0.5,"c":1.5},
{"x":38.0926,"t":2,"c":2},{"x":38.0930,"t":12,"c":11},{"x":38.0934,"t":1,"c":2},{"x":38.0950,"t":2,"c":0.5},{"x":38.0965,"t":0,"c":2},{"x":38.0980,"t":2,"c":1},{"x":38.0995,"t":0.5,"c":2},
{"x":38.1010,"t":2,"c":0},{"x":38.1025,"t":0,"c":1.5},{"x":38.1040,"t":2,"c":1},{"x":38.1055,"t":0.5,"c":2},{"x":38.1070,"t":2,"c":0.5},{"x":38.1085,"t":0,"c":1.5},{"x":38.1097,"t":1.5,"c":1.5},
{"x":38.1101,"t":10,"c":11},{"x":38.1103,"t":30,"c":32},{"x":38.1105,"t":47,"c":49},{"x":38.1107,"t":30,"c":32},{"x":38.1109,"t":8,"c":9},{"x":38.1113,"t":1,"c":2},{"x":38.1125,"t":2,"c":0.5},
{"x":38.1138,"t":0.5,"c":2},{"x":38.1143,"t":2,"c":2},{"x":38.1146,"t":8,"c":7},{"x":38.1149,"t":20,"c":17},{"x":38.1152,"t":6,"c":5},{"x":38.1157,"t":1,"c":1.5},{"x":38.1170,"t":2,"c":0.5},
{"x":38.1178,"t":2,"c":2},{"x":38.1182,"t":9,"c":9},{"x":38.1186,"t":1.5,"c":2},{"x":38.1192,"t":2,"c":2},{"x":38.1195,"t":15,"c":24},{"x":38.1197,"t":38,"c":60},{"x":38.1198,"t":40,"c":64},
{"x":38.1200,"t":42,"c":40},{"x":38.1202,"t":30,"c":32},{"x":38.1205,"t":8,"c":9},{"x":38.1210,"t":1,"c":2},{"x":38.1225,"t":2,"c":0.5},{"x":38.1240,"t":0,"c":2},{"x":38.1255,"t":2,"c":1},
{"x":38.1270,"t":0.5,"c":2},{"x":38.1285,"t":2,"c":0},{"x":38.1300,"t":0,"c":1.5},{"x":38.1315,"t":2,"c":1},{"x":38.1330,"t":0.5,"c":2},{"x":38.1345,"t":2,"c":0.5},{"x":38.1360,"t":0,"c":2},
{"x":38.1375,"t":2,"c":1},{"x":38.1383,"t":1,"c":1.5},{"x":38.1387,"t":7,"c":6},{"x":38.1391,"t":1,"c":1.5},{"x":38.1405,"t":2,"c":0.5},{"x":38.1420,"t":0,"c":2},{"x":38.1435,"t":2,"c":1},
{"x":38.1450,"t":0.5,"c":2},{"x":38.1465,"t":2,"c":0},{"x":38.1480,"t":0,"c":1.5},{"x":38.1495,"t":2,"c":1},{"x":38.1510,"t":0.5,"c":2},{"x":38.1525,"t":2,"c":0.5},{"x":38.1540,"t":0,"c":2},
{"x":38.1555,"t":2,"c":1},{"x":38.1570,"t":0.5,"c":2},{"x":38.1585,"t":2,"c":0},{"x":38.1600,"t":0,"c":1.5},{"x":38.1615,"t":2,"c":1},{"x":38.1630,"t":0.5,"c":2},{"x":38.1645,"t":2,"c":0.5},
{"x":38.1660,"t":0,"c":2},{"x":38.1675,"t":2,"c":1},{"x":38.1690,"t":0.5,"c":2},{"x":38.1705,"t":2,"c":0},{"x":38.1720,"t":0,"c":1.5},{"x":38.1735,"t":2,"c":1},{"x":38.1750,"t":0.5,"c":2},
{"x":38.1765,"t":2,"c":0.5},{"x":38.1780,"t":0,"c":2},{"x":38.1795,"t":2,"c":1},{"x":38.1806,"t":1,"c":1.5}],
"h3k27ac":[
{"x":37.9944,"t":1,"c":1},{"x":37.9955,"t":1.5,"c":1},{"x":37.9962,"t":3,"c":2},{"x":37.9966,"t":5,"c":4},{"x":37.9970,"t":2,"c":2},{"x":37.9980,"t":3,"c":2},{"x":37.9990,"t":1.5,"c":2},
{"x":38.0010,"t":1,"c":1},{"x":38.0040,"t":0.5,"c":1},{"x":38.0070,"t":1,"c":0.5},{"x":38.0100,"t":1.5,"c":1.5},{"x":38.0118,"t":2.5,"c":3},{"x":38.0126,"t":7,"c":8},{"x":38.0132,"t":14,"c":15},
{"x":38.0138,"t":20,"c":18},{"x":38.0142,"t":16,"c":17},{"x":38.0146,"t":12,"c":11},{"x":38.0152,"t":9,"c":10},{"x":38.0156,"t":6,"c":7},{"x":38.0160,"t":11,"c":9},{"x":38.0164,"t":6,"c":6},
{"x":38.0170,"t":3,"c":3},{"x":38.0180,"t":1.5,"c":2},{"x":38.0210,"t":1,"c":1},{"x":38.0250,"t":0.5,"c":1},{"x":38.0290,"t":1,"c":1},{"x":38.0330,"t":1,"c":1.5},{"x":38.0352,"t":3,"c":2},
{"x":38.0358,"t":7,"c":4},{"x":38.0362,"t":12,"c":6},{"x":38.0366,"t":5,"c":4},{"x":38.0373,"t":2,"c":2},{"x":38.0400,"t":1,"c":1},{"x":38.0430,"t":2,"c":1.5},{"x":38.0460,"t":0.5,"c":1},
{"x":38.0500,"t":1,"c":1},{"x":38.0520,"t":4,"c":4},{"x":38.0526,"t":10,"c":10},{"x":38.0532,"t":15,"c":13},{"x":38.0537,"t":8,"c":9},{"x":38.0543,"t":5,"c":5},{"x":38.0549,"t":4,"c":4},
{"x":38.0555,"t":7,"c":8},{"x":38.0562,"t":20,"c":22},{"x":38.0568,"t":42,"c":40},{"x":38.0572,"t":35,"c":36},{"x":38.0576,"t":33,"c":32},{"x":38.0580,"t":22,"c":24},{"x":38.0583,"t":14,"c":16},
{"x":38.0587,"t":24,"c":22},{"x":38.0591,"t":31,"c":30},{"x":38.0596,"t":38,"c":36},{"x":38.0601,"t":41,"c":40},{"x":38.0606,"t":46,"c":44},{"x":38.0610,"t":48,"c":46},{"x":38.0614,"t":34,"c":36},
{"x":38.0618,"t":41,"c":40},{"x":38.0623,"t":31,"c":33},{"x":38.0628,"t":80,"c":76},{"x":38.0632,"t":46,"c":48},{"x":38.0636,"t":29,"c":31},{"x":38.0640,"t":74,"c":70},{"x":38.0644,"t":38,"c":40},
{"x":38.0648,"t":65,"c":62},{"x":38.0652,"t":41,"c":43},{"x":38.0656,"t":58,"c":60},{"x":38.0660,"t":32,"c":34},{"x":38.0664,"t":65,"c":62},{"x":38.0668,"t":38,"c":40},{"x":38.0672,"t":80,"c":76},
{"x":38.0675,"t":66,"c":68},{"x":38.0679,"t":95,"c":92},{"x":38.0683,"t":71,"c":73},{"x":38.0687,"t":20,"c":16},{"x":38.0690,"t":54,"c":50},{"x":38.0694,"t":70,"c":66},{"x":38.0698,"t":46,"c":48},
{"x":38.0702,"t":38,"c":40},{"x":38.0707,"t":21,"c":23},{"x":38.0713,"t":9,"c":10},{"x":38.0721,"t":5,"c":5},{"x":38.0730,"t":3,"c":3},{"x":38.0750,"t":1.5,"c":1},{"x":38.0790,"t":1,"c":1},
{"x":38.0820,"t":2,"c":2},{"x":38.0840,"t":3,"c":4},{"x":38.0847,"t":7,"c":10},{"x":38.0852,"t":10,"c":20},{"x":38.0856,"t":8,"c":9},{"x":38.0862,"t":4,"c":5},{"x":38.0875,"t":2,"c":2},
{"x":38.0900,"t":1,"c":1},{"x":38.0915,"t":2,"c":2},{"x":38.0923,"t":10,"c":9},{"x":38.0926,"t":18,"c":14},{"x":38.0930,"t":12,"c":12},{"x":38.0932,"t":17,"c":18},{"x":38.0936,"t":6,"c":7},
{"x":38.0945,"t":3,"c":3},{"x":38.0970,"t":1.5,"c":1},{"x":38.1010,"t":1,"c":1},{"x":38.1050,"t":1,"c":1.5},{"x":38.1075,"t":2,"c":3},{"x":38.1084,"t":5,"c":6},{"x":38.1093,"t":14,"c":15},
{"x":38.1097,"t":30,"c":32},{"x":38.1100,"t":36,"c":48},{"x":38.1103,"t":20,"c":28},{"x":38.1105,"t":8,"c":10},{"x":38.1108,"t":40,"c":44},{"x":38.1112,"t":42,"c":40},{"x":38.1116,"t":30,"c":32},
{"x":38.1120,"t":22,"c":22},{"x":38.1125,"t":14,"c":16},{"x":38.1130,"t":8,"c":9},{"x":38.1135,"t":20,"c":22},{"x":38.1140,"t":36,"c":41},{"x":38.1143,"t":28,"c":26},{"x":38.1147,"t":32,"c":30},
{"x":38.1150,"t":15,"c":16},{"x":38.1155,"t":10,"c":11},{"x":38.1161,"t":12,"c":14},{"x":38.1168,"t":16,"c":18},{"x":38.1175,"t":24,"c":24},{"x":38.1180,"t":37,"c":36},{"x":38.1185,"t":54,"c":52},
{"x":38.1189,"t":46,"c":47},{"x":38.1193,"t":65,"c":60},{"x":38.1197,"t":40,"c":38},{"x":38.1201,"t":14,"c":18},{"x":38.1204,"t":36,"c":37},{"x":38.1208,"t":73,"c":70},{"x":38.1212,"t":54,"c":55},
{"x":38.1216,"t":36,"c":38},{"x":38.1221,"t":28,"c":29},{"x":38.1227,"t":20,"c":21},{"x":38.1235,"t":14,"c":14},{"x":38.1244,"t":8,"c":8},{"x":38.1255,"t":5,"c":5},{"x":38.1270,"t":4,"c":4},
{"x":38.1290,"t":2,"c":2},{"x":38.1320,"t":1,"c":1.5},{"x":38.1360,"t":2,"c":1.5},{"x":38.1378,"t":4,"c":4},{"x":38.1385,"t":8,"c":9},{"x":38.1392,"t":4,"c":4},{"x":38.1410,"t":2,"c":2},
{"x":38.1450,"t":1,"c":1},{"x":38.1500,"t":1.5,"c":1.5},{"x":38.1550,"t":1,"c":1},{"x":38.1600,"t":1.5,"c":1},{"x":38.1650,"t":1,"c":1},{"x":38.1700,"t":1.5,"c":1.5},{"x":38.1740,"t":3,"c":3},
{"x":38.1752,"t":7,"c":8},{"x":38.1760,"t":10,"c":11},{"x":38.1765,"t":8,"c":9},{"x":38.1770,"t":10,"c":12},{"x":38.1775,"t":7,"c":9},{"x":38.1782,"t":3,"c":4},{"x":38.1795,"t":2,"c":2},{"x":38.1806,"t":1,"c":1}]
},
"vconcat":[
{"width":1836,"height":64,
 "layer":[
  {"data":{"name":"bands"},"transform":[{"filter":"datum.b != 'p13'"}],
   "mark":{"type":"rect"},
   "encoding":{"x":{"field":"s","type":"quantitative","scale":{"domain":[-17.85,107.76],"nice":false,"zero":false}},"x2":{"field":"e"},
    "y":{"datum":0.735,"type":"quantitative","scale":{"domain":[0,1],"nice":false,"zero":false}},"y2":{"datum":0.235},
    "color":{"field":"st","type":"nominal","legend":null,"scale":{"domain":["gneg","gpos25","gpos50","gpos75","gpos100","gvar","stalk"],"range":["#ffffff","#c0c0c0","#808080","#404040","#000000","#000000","#cd3333"]}}}},
  {"data":{"name":"bands"},"transform":[{"filter":"datum.b == 'p13'"}],
   "mark":{"type":"rect","color":"#000000","cornerRadiusTopLeft":16,"cornerRadiusBottomLeft":16},
   "encoding":{"x":{"field":"s","type":"quantitative"},"x2":{"field":"e"},"y":{"datum":0.735,"type":"quantitative"},"y2":{"datum":0.235}}},
  {"data":{"name":"arms"},"transform":[{"filter":"datum.arm == 'p'"}],
   "mark":{"type":"rect","filled":false,"stroke":"#000000","strokeWidth":1.5,"cornerRadiusTopLeft":16,"cornerRadiusBottomLeft":16},
   "encoding":{"x":{"field":"s","type":"quantitative"},"x2":{"field":"e"},"y":{"datum":0.735,"type":"quantitative"},"y2":{"datum":0.235}}},
  {"data":{"name":"arms"},"transform":[{"filter":"datum.arm == 'q'"}],
   "mark":{"type":"rect","filled":false,"stroke":"#000000","strokeWidth":1.5,"cornerRadiusTopRight":16,"cornerRadiusBottomRight":16},
   "encoding":{"x":{"field":"s","type":"quantitative"},"x2":{"field":"e"},"y":{"datum":0.735,"type":"quantitative"},"y2":{"datum":0.235}}},
  {"data":{"values":[{"cen":17.6}]},
   "mark":{"type":"point","shape":"M-1.37,-1L1.37,1L1.37,-1L-1.37,1Z","size":1024,"filled":true,"fill":"#8b2323","stroke":"#000000","strokeWidth":1,"opacity":1},
   "encoding":{"x":{"field":"cen","type":"quantitative"},"y":{"datum":0.485,"type":"quantitative"}}},
  {"data":{"values":[{"s":37.9944,"e":38.1806}]},
   "mark":{"type":"rect","filled":false,"stroke":"#ff0000","strokeWidth":1.5},
   "encoding":{"x":{"field":"s","type":"quantitative"},"x2":{"field":"e"},"y":{"datum":0.95,"type":"quantitative"},"y2":{"datum":0.02}}},
  {"data":{"values":[{"lab":"Chromosome 14"}]},
   "mark":{"type":"text","align":"left","baseline":"middle","fontSize":30,"color":"#808080","font":"Liberation Sans"},
   "encoding":{"x":{"datum":-17.8,"type":"quantitative"},"y":{"datum":0.485,"type":"quantitative"},"text":{"field":"lab"}}}
 ]},
{"width":1836,"height":70,
 "layer":[
  {"data":{"values":[{"s":37.9950,"e":38.1800}]},
   "mark":{"type":"rule","color":"#a9a9a9","strokeWidth":6},
   "encoding":{"x":{"field":"s","type":"quantitative","scale":{"domain":[37.9944,38.1806],"nice":false,"zero":false}},"x2":{"field":"e"},
    "y":{"datum":0.443,"type":"quantitative","scale":{"domain":[0,1],"nice":false,"zero":false}}}},
  {"data":{"name":"ticks"},"transform":[{"filter":"datum.side == 'up'"}],
   "mark":{"type":"rule","color":"#a9a9a9","strokeWidth":2},
   "encoding":{"x":{"field":"p","type":"quantitative"},"y":{"datum":0.443,"type":"quantitative"},"y2":{"datum":0.55}}},
  {"data":{"name":"ticks"},"transform":[{"filter":"datum.side == 'down'"}],
   "mark":{"type":"rule","color":"#a9a9a9","strokeWidth":2},
   "encoding":{"x":{"field":"p","type":"quantitative"},"y":{"datum":0.443,"type":"quantitative"},"y2":{"datum":0.35}}},
  {"data":{"name":"ticks"},"transform":[{"filter":"datum.side == 'up'"}],
   "mark":{"type":"text","baseline":"alphabetic","align":"center","fontSize":30,"color":"#808080","font":"Liberation Sans"},
   "encoding":{"x":{"field":"p","type":"quantitative"},"y":{"datum":0.586,"type":"quantitative"},"text":{"field":"l"}}},
  {"data":{"name":"ticks"},"transform":[{"filter":"datum.side == 'down'"}],
   "mark":{"type":"text","baseline":"top","align":"center","fontSize":30,"color":"#808080","font":"Liberation Sans"},
   "encoding":{"x":{"field":"p","type":"quantitative"},"y":{"datum":0.343,"type":"quantitative"},"text":{"field":"l"}}}
 ]},
{"width":1836,"height":199,
 "title":{"text":"HiC","fontWeight":"bold"},
 "layer":[
  {"data":{"name":"tad"},
   "mark":{"type":"rect","color":"#add8e6","clip":true},
   "encoding":{"x":{"field":"s","type":"quantitative","scale":{"domain":[37.9944,38.1806],"nice":false,"zero":false}},"x2":{"field":"e"},
    "y":{"datum":-1.64,"type":"quantitative","scale":{"domain":[-8.74,100],"nice":false,"zero":false}},"y2":{"datum":-7.65}}},
  {"data":{"name":"arcs"},
   "mark":{"type":"line","color":"#ff0000","strokeWidth":1.6,"interpolate":"monotone","clip":true},
   "encoding":{"x":{"field":"x","type":"quantitative"},"y":{"field":"h","type":"quantitative"},"detail":{"field":"a","type":"nominal"}}},
  {"data":{"name":"boxes"},
   "mark":{"type":"rect","filled":false,"stroke":"#7878f0","strokeWidth":1.6,"clip":true},
   "encoding":{"x":{"field":"x1","type":"quantitative"},"x2":{"field":"x2"},"y":{"datum":99.4,"type":"quantitative"},"y2":{"datum":-40}}}
 ]},
{"width":1836,"height":129,
 "title":{"text":"Detected","fontWeight":"bold"},
 "layer":[
  {"data":{"name":"genes"},"transform":[{"filter":"datum.grp == 'Detected'"}],
   "mark":{"type":"rule","color":"#a9a9a9","strokeWidth":2.5,"clip":true},
   "encoding":{"x":{"field":"s","type":"quantitative","scale":{"domain":[37.9944,38.1806],"nice":false,"zero":false}},"x2":{"field":"e"},
    "y":{"field":"row","type":"nominal","scale":{"type":"band","domain":["r1","r2"],"paddingInner":0.24,"paddingOuter":0.1}}}},
  {"data":{"name":"exons"},"transform":[{"filter":"datum.grp == 'Detected'"}],
   "mark":{"type":"rect","color":"#228b22","clip":true},
   "encoding":{"x":{"field":"s","type":"quantitative"},"x2":{"field":"e"},"y":{"field":"row","type":"nominal"}}},
  {"data":{"name":"genes"},"transform":[{"filter":"datum.grp == 'Detected' && datum.s > 37.9944"}],
   "mark":{"type":"text","align":"right","baseline":"middle","dx":-20,"fontSize":18,"fontWeight":"bold","color":"#808080","font":"Liberation Sans"},
   "encoding":{"x":{"field":"s","type":"quantitative"},"y":{"field":"row","type":"nominal"},"text":{"field":"g"}}},
  {"data":{"name":"boxes"},"mark":{"type":"rule","color":"#7878f0","strokeWidth":1.6},"encoding":{"x":{"field":"x1","type":"quantitative"}}},
  {"data":{"name":"boxes"},"mark":{"type":"rule","color":"#7878f0","strokeWidth":1.6},"encoding":{"x":{"field":"x2","type":"quantitative"}}}
 ]},
{"width":1836,"height":130,
 "title":{"text":"Not-Detected","fontWeight":"bold"},
 "layer":[
  {"data":{"name":"genes"},"transform":[{"filter":"datum.grp == 'Not-Detected'"}],
   "mark":{"type":"rule","color":"#a9a9a9","strokeWidth":2.5,"clip":true},
   "encoding":{"x":{"field":"s","type":"quantitative","scale":{"domain":[37.9944,38.1806],"nice":false,"zero":false}},"x2":{"field":"e"},
    "y":{"field":"row","type":"nominal","scale":{"type":"band","domain":["r3","r4"],"paddingInner":0.24,"paddingOuter":0.1}}}},
  {"data":{"name":"exons"},"transform":[{"filter":"datum.grp == 'Not-Detected'"}],
   "mark":{"type":"rect","color":"#7070d0","clip":true},
   "encoding":{"x":{"field":"s","type":"quantitative"},"x2":{"field":"e"},"y":{"field":"row","type":"nominal"}}},
  {"data":{"name":"genes"},"transform":[{"filter":"datum.grp == 'Not-Detected'"}],
   "mark":{"type":"text","align":"right","baseline":"middle","dx":-5,"fontSize":18,"fontWeight":"bold","color":"#808080","font":"Liberation Sans"},
   "encoding":{"x":{"field":"s","type":"quantitative"},"y":{"field":"row","type":"nominal"},"text":{"field":"g"}}},
  {"data":{"name":"boxes"},"mark":{"type":"rule","color":"#7878f0","strokeWidth":1.6},"encoding":{"x":{"field":"x1","type":"quantitative"}}},
  {"data":{"name":"boxes"},"mark":{"type":"rule","color":"#7878f0","strokeWidth":1.6},"encoding":{"x":{"field":"x2","type":"quantitative"}}}
 ]},
{"width":1836,"height":263,"title":{"text":"AR"},
 "layer":[
  {"data":{"name":"ar"},"mark":{"type":"line","color":"#9b0000","strokeWidth":1.6,"clip":true},
   "encoding":{"x":{"field":"x","type":"quantitative","scale":{"domain":[37.9944,38.1806],"nice":false,"zero":false}},"y":{"field":"t","type":"quantitative","scale":{"domain":[-6.05,100],"nice":false,"zero":false}}}},
  {"data":{"name":"ar"},"mark":{"type":"line","color":"#999999","strokeWidth":2.4,"clip":true},
   "encoding":{"x":{"field":"x","type":"quantitative"},"y":{"field":"c","type":"quantitative"}}},
  {"data":{"name":"boxes"},"mark":{"type":"rule","color":"#7878f0","strokeWidth":1.6},"encoding":{"x":{"field":"x1","type":"quantitative"}}},
  {"data":{"name":"boxes"},"mark":{"type":"rule","color":"#7878f0","strokeWidth":1.6},"encoding":{"x":{"field":"x2","type":"quantitative"}}}
 ]},
{"width":1836,"height":263,"title":{"text":"FOXA1"},
 "layer":[
  {"data":{"name":"foxa1"},"mark":{"type":"line","color":"#9b0000","strokeWidth":1.6,"clip":true},
   "encoding":{"x":{"field":"x","type":"quantitative","scale":{"domain":[37.9944,38.1806],"nice":false,"zero":false}},"y":{"field":"t","type":"quantitative","scale":{"domain":[-6.05,100],"nice":false,"zero":false}}}},
  {"data":{"name":"foxa1"},"mark":{"type":"line","color":"#999999","strokeWidth":2.2,"clip":true},
   "encoding":{"x":{"field":"x","type":"quantitative"},"y":{"field":"c","type":"quantitative"}}},
  {"data":{"name":"boxes"},"mark":{"type":"rule","color":"#7878f0","strokeWidth":1.6},"encoding":{"x":{"field":"x1","type":"quantitative"}}},
  {"data":{"name":"boxes"},"mark":{"type":"rule","color":"#7878f0","strokeWidth":1.6},"encoding":{"x":{"field":"x2","type":"quantitative"}}}
 ]},
{"width":1836,"height":263,"title":{"text":"GATA3"},
 "layer":[
  {"data":{"name":"gata3"},"mark":{"type":"line","color":"#9b0000","strokeWidth":1.6,"clip":true},
   "encoding":{"x":{"field":"x","type":"quantitative","scale":{"domain":[37.9944,38.1806],"nice":false,"zero":false}},"y":{"field":"t","type":"quantitative","scale":{"domain":[-6.05,100],"nice":false,"zero":false}}}},
  {"data":{"name":"gata3"},"mark":{"type":"line","color":"#999999","strokeWidth":2.2,"clip":true},
   "encoding":{"x":{"field":"x","type":"quantitative"},"y":{"field":"c","type":"quantitative"}}},
  {"data":{"name":"boxes"},"mark":{"type":"rule","color":"#7878f0","strokeWidth":1.6},"encoding":{"x":{"field":"x1","type":"quantitative"}}},
  {"data":{"name":"boxes"},"mark":{"type":"rule","color":"#7878f0","strokeWidth":1.6},"encoding":{"x":{"field":"x2","type":"quantitative"}}}
 ]},
{"width":1836,"height":263,"title":{"text":"TFAP2B"},
 "layer":[
  {"data":{"name":"tfap2b"},"mark":{"type":"line","color":"#9b0000","strokeWidth":1.6,"clip":true},
   "encoding":{"x":{"field":"x","type":"quantitative","scale":{"domain":[37.9944,38.1806],"nice":false,"zero":false}},"y":{"field":"t","type":"quantitative","scale":{"domain":[-6.05,100],"nice":false,"zero":false}}}},
  {"data":{"name":"tfap2b"},"mark":{"type":"line","color":"#999999","strokeWidth":2.2,"clip":true},
   "encoding":{"x":{"field":"x","type":"quantitative"},"y":{"field":"c","type":"quantitative"}}},
  {"data":{"name":"boxes"},"mark":{"type":"rule","color":"#7878f0","strokeWidth":1.6},"encoding":{"x":{"field":"x1","type":"quantitative"}}},
  {"data":{"name":"boxes"},"mark":{"type":"rule","color":"#7878f0","strokeWidth":1.6},"encoding":{"x":{"field":"x2","type":"quantitative"}}}
 ]},
{"width":1836,"height":263,"title":{"text":"H3K27ac"},
 "layer":[
  {"data":{"name":"h3k27ac"},"mark":{"type":"line","color":"#9b0000","strokeWidth":1.6,"clip":true},
   "encoding":{"x":{"field":"x","type":"quantitative","scale":{"domain":[37.9944,38.1806],"nice":false,"zero":false}},"y":{"field":"t","type":"quantitative","scale":{"domain":[-6.05,100],"nice":false,"zero":false}}}},
  {"data":{"name":"h3k27ac"},"mark":{"type":"line","color":"#999999","strokeWidth":2.2,"clip":true},
   "encoding":{"x":{"field":"x","type":"quantitative"},"y":{"field":"c","type":"quantitative"}}},
  {"data":{"name":"boxes"},
   "mark":{"type":"rect","filled":false,"stroke":"#7878f0","strokeWidth":1.6,"clip":true},
   "encoding":{"x":{"field":"x1","type":"quantitative"},"x2":{"field":"x2"},"y":{"datum":150,"type":"quantitative"},"y2":{"datum":-4.4}}}
 ]}
]
}
